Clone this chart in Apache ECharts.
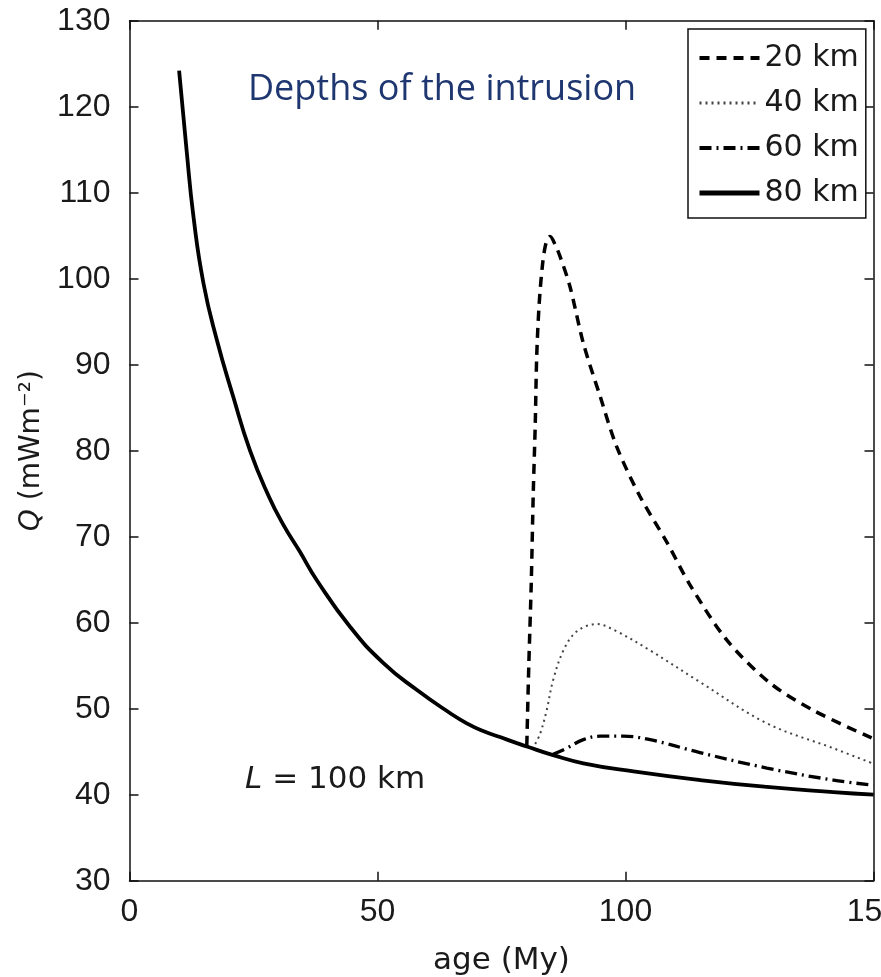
<!DOCTYPE html>
<html>
<head>
<meta charset="utf-8">
<script src="https://cdn.jsdelivr.net/npm/echarts@6/dist/echarts.min.js"></script>
<style>
  html, body { margin: 0; padding: 0; background: #fff; }
  #chart { width: 881px; height: 977px; }
</style>
</head>
<body>
<div id="chart"></div>
<script>
// ---- Data ----
const seriesNames = ['20 km', '40 km', '60 km', '80 km'];

const age20 = [80.1, 80.5, 81.0, 81.4, 81.8, 82.1, 82.6, 83.3, 84.0, 84.8, 85.8, 86.8, 88.8, 91.5, 94.9, 98.2, 102.9, 108.3, 113.0, 120.4, 129.1, 137.9, 150];
const q20   = [45.7, 55.0, 64.6, 75.0, 83.0, 91.0, 97.1, 101.8, 104.2, 104.9, 104.0, 102.6, 99.1, 92.5, 86.3, 80.5, 74.7, 69.4, 64.4, 58.0, 53.0, 49.8, 46.5];

const age40 = [81.8, 82.8, 84.1, 85.4, 87.5, 90.2, 94.2, 98.2, 104.9, 115, 128.5, 141.9, 150];
const q40   = [45.9, 47.1, 49.8, 53.3, 56.8, 59.0, 59.85, 59.0, 56.8, 53.1, 48.3, 45.4, 43.6];

const age60 = [85.4, 88.1, 91.5, 94.9, 99.6, 105, 115, 128.5, 141.9, 150];
const q60   = [44.7, 45.4, 46.4, 46.8, 46.8, 46.4, 44.9, 43.1, 41.7, 41.1];

const age80 = [10, 11.5, 12.9, 14.9, 17.6, 20.9, 24.3, 28, 31, 34.3, 37.7, 44.5, 51.2, 57.9, 64.6, 68, 71.3, 74.7, 78.1, 80.1, 85.4, 91.5, 101.6, 115, 128.5, 141.9, 150];
const q80   = [124.2, 115.0, 107.2, 99.5, 92.9, 86.3, 80.0, 74.8, 71.4, 68.3, 65.0, 59.5, 55.3, 52.2, 49.5, 48.3, 47.4, 46.7, 46.0, 45.6, 44.6, 43.65, 42.7, 41.7, 40.9, 40.3, 40.0];

const xTicks = { min: 0, max: 150, interval: 50 };
const yTicks = { min: 30, max: 130, interval: 10 };

const xName = 'age (My)';
const yName = '{i|Q} (mWm\u207B\u00B2)';
const annotation = '{i|L} = 100 km';
const title = 'Depths of the intrusion';

// ---- Build ----
const zip = (a, b) => a.map((v, i) => [v, b[i]]);
const axisColor = '#111';
const textColor = '#1a1a1a';

const styles = [
  { type: [10, 7], width: 3.5, legendWidth: 4, color: '#000', smooth: 0.3 },
  { type: [2, 4], width: 2, legendWidth: 3, color: '#444', smooth: 0.35 },
  { type: [12, 5, 2, 5], width: 3.3, legendWidth: 4, color: '#000', smooth: 0.4 },
  { type: 'solid', width: 3.8, legendWidth: 5, color: '#000', smooth: 0.5 }
];
const datasets = [zip(age20, q20), zip(age40, q40), zip(age60, q60), zip(age80, q80)];

const chart = echarts.init(document.getElementById('chart'), null, { renderer: 'canvas' });

const baseX = {
  type: 'value', min: xTicks.min, max: xTicks.max, interval: xTicks.interval,
  axisLine: { show: true, onZero: false, lineStyle: { color: axisColor, width: 1.5 } },
  axisTick: { show: true, inside: true, length: 9, lineStyle: { color: axisColor, width: 1.5 } },
  splitLine: { show: false }
};
const baseY = {
  type: 'value', min: yTicks.min, max: yTicks.max, interval: yTicks.interval,
  axisLine: { show: true, onZero: false, lineStyle: { color: axisColor, width: 1.5 } },
  axisTick: { show: true, inside: true, length: 9, lineStyle: { color: axisColor, width: 1.5 } },
  splitLine: { show: false }
};

chart.setOption({
  animation: false,
  backgroundColor: '#fff',
  grid: { left: 129.5, right: 7.5, top: 20.7, bottom: 96.3, containLabel: false, outerBoundsMode: 'none' },
  xAxis: [
    Object.assign({}, baseX, {
      position: 'bottom',
      axisLabel: { show: true, margin: 15, fontFamily: 'Liberation Sans', fontSize: 32, color: textColor, showMinLabel: true, showMaxLabel: true, hideOverlap: false },
      name: xName, nameLocation: 'middle', nameGap: 65,
      nameTextStyle: { fontFamily: 'DejaVu Sans', fontSize: 31, color: textColor }
    }),
    Object.assign({}, baseX, { position: 'top', axisLabel: { show: false } })
  ],
  yAxis: [
    Object.assign({}, baseY, {
      position: 'left',
      axisLabel: { show: true, margin: 19, fontFamily: 'Liberation Sans', fontSize: 32, color: textColor, showMinLabel: true, showMaxLabel: true },
      name: yName, nameLocation: 'middle', nameGap: 84, nameRotate: 90,
      nameTextStyle: {
        fontFamily: 'DejaVu Sans', fontSize: 28, color: textColor,
        rich: { i: { fontStyle: 'italic', fontFamily: 'DejaVu Sans', fontSize: 28, color: textColor } }
      }
    }),
    Object.assign({}, baseY, { position: 'right', axisLabel: { show: false } })
  ],
  legend: {
    data: seriesNames.map((n, i) => ({ name: n, lineStyle: { width: styles[i].legendWidth } })),
    orient: 'vertical',
    left: 688, top: 29,
    itemWidth: 60, itemHeight: 14, itemGap: 15, itemTextGap: 5,
    padding: [14, 7, 10, 9],
    borderColor: '#111', borderWidth: 1.5, backgroundColor: '#fff',
    selectedMode: false,
    itemStyle: { color: 'rgba(0,0,0,0)', borderWidth: 0, opacity: 0 },
    textStyle: { fontFamily: 'DejaVu Sans', fontSize: 30, color: textColor, lineHeight: 30 }
  },
  series: seriesNames.map((name, i) => ({
    name: name,
    type: 'line',
    xAxisIndex: 0, yAxisIndex: 0,
    data: datasets[i],
    symbol: 'none',
    smooth: styles[i].smooth,
    lineStyle: { type: styles[i].type, width: styles[i].width, color: styles[i].color },
    itemStyle: { color: styles[i].color },
    z: 2 + i
  })),
  graphic: [
    {
      type: 'text', left: 248, top: 72, silent: true,
      style: { text: title, fontFamily: 'Open Sans', fontSize: 36, fill: '#1f3770' }
    },
    {
      type: 'text', left: 245, top: 764, silent: true,
      style: {
        text: annotation, fontFamily: 'DejaVu Sans', fontSize: 31, fill: textColor,
        rich: { i: { fontStyle: 'italic', fontFamily: 'DejaVu Sans', fontSize: 31, fill: textColor } }
      }
    }
  ]
});
</script>
</body>
</html>
